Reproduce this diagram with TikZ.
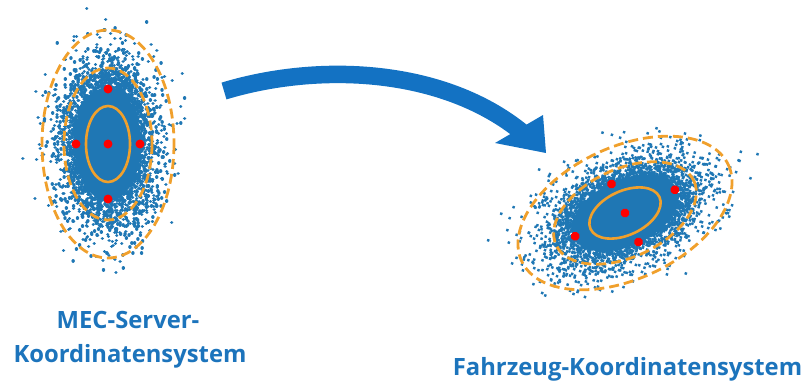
\documentclass[tikz,border=0pt]{standalone}
\usepackage{fontspec}
\setmainfont{Open Sans}
\definecolor{dotblue}{HTML}{1F77B4}
\definecolor{arrowblue}{HTML}{1372C3}
\definecolor{textblue}{HTML}{1C74BC}
\definecolor{ellorange}{HTML}{F0A02C}
\tikzset{
  sample/.style={draw=dotblue, line width=3.4, line cap=round},
  samplecore/.style={fill=dotblue},
  sigmaone/.style={draw=ellorange, line width=2.6},
  sigmamore/.style={draw=ellorange, line width=2.8, dash pattern=on 10 off 5},
  sigmapt/.style={fill=red},
  caption/.style={text=textblue, font=\bfseries\fontsize{23.8}{30}\selectfont, inner sep=0pt},
}
% Gaussian samples (Box-Muller), sigma_x = #1, sigma_y = #2, #3 batches of 250;
% each sample is a round-capped stub of near zero length; the saturated
% core (inside about 1.5 sigma) is laid down as one solid ellipse first
\newcommand\gausscloud[3]{%
  \fill[samplecore] (0,0) ellipse[x radius={1.5*#1}, y radius={1.5*#2}];
  \foreach \batch in {1,...,#3}{%
    \path[sample] foreach \k [evaluate=\k as \rr using {sqrt(-2*ln(0.0005+0.999*rnd))},
                              evaluate=\k as \aa using {360*rnd}] in {1,...,250}
      { ({#1*\rr*cos(\aa)},{#2*\rr*sin(\aa)}) -- ++(0.05,0) };%
  }%
}
\begin{document}
\begin{tikzpicture}[x=1pt,y=-1pt]
\useasboundingbox (0,0) rectangle (808,381);
\pgfmathsetseed{4711}

% server frame: upright covariance
\begin{scope}[shift={(108,144)}]
  \gausscloud{22}{38}{24}
  \draw[sigmaone] (0,0) ellipse[x radius=22, y radius=38];
  \draw[sigmamore] (0,0) ellipse[x radius=44, y radius=76];
  \draw[sigmamore] (0,0) ellipse[x radius=66, y radius=114];
  \foreach \p in {(0,0),(0,-55),(0,55),(-32,0),(32,0)}
    \fill[sigmapt] \p circle[radius=4.5];
  \coordinate (srv) at (0,0);
\end{scope}

% vehicle frame: rotated covariance
\begin{scope}[shift={(625,213)}, rotate=25]
  \gausscloud{38}{22}{24}
  \draw[sigmaone] (0,0) ellipse[x radius=38, y radius=22];
  \draw[sigmamore] (0,0) ellipse[x radius=76, y radius=44];
  \draw[sigmamore] (0,0) ellipse[x radius=114, y radius=66];
  \foreach \p in {(0,0),(55,0),(-55,0),(0,-32),(0,32)}
    \fill[sigmapt] \p circle[radius=4.5];
  \coordinate (veh) at (0,0);
\end{scope}

% transformation arrow
\coordinate (tail) at (224,91);
\coordinate (neck) at (523,133);
\fill[arrowblue] (495,143) -- (543,115) -- (546,153) -- cycle;
\draw[arrowblue, line width=17.5] (tail) .. controls (320,62) and (444,68) .. (neck);

% captions
\node[caption, anchor=base] (capA) at (128,328) {MEC-Server-};
\node[caption, anchor=base] (capB) at (130,362) {Koordinatensystem};
\node[caption, anchor=base] (capC) at (627.5,375) {Fahrzeug-Koordinatensystem};
\end{tikzpicture}
\end{document}
